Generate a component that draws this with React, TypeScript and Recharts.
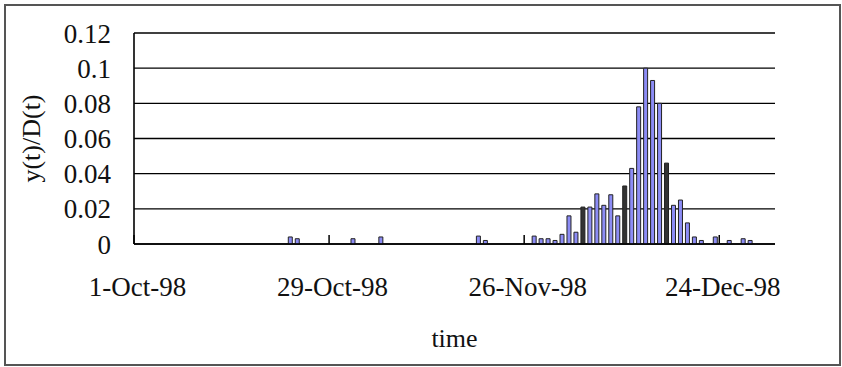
import { BarChart, Bar, XAxis, YAxis, CartesianGrid, Cell } from 'recharts';

const FONT = '"Liberation Serif", "Times New Roman", serif';

// day labels, 1-Oct-98 .. 31-Dec-98
const MONTHS = ['Oct', 'Nov', 'Dec'];
const MONTH_LENGTHS = [31, 30, 31];

// y(t)/D(t) per day of each month
const OCT = [
  0, 0, 0, 0, 0, 0, 0, 0, 0, 0,
  0, 0, 0, 0, 0, 0, 0, 0, 0, 0,
  0, 0, 0.004, 0.003, 0, 0, 0, 0, 0, 0,
  0,
];
const NOV = [
  0.003, 0, 0, 0, 0.004, 0, 0, 0, 0, 0,
  0, 0, 0, 0, 0, 0, 0, 0, 0.0045, 0.002,
  0, 0, 0, 0, 0, 0, 0.0045, 0.003, 0.003, 0.002,
];
const DEC = [
  0.0055, 0.016, 0.0067, 0.021, 0.021, 0.0285, 0.022, 0.028, 0.016, 0.033,
  0.043, 0.078, 0.1, 0.093, 0.08, 0.046, 0.022, 0.025, 0.012, 0.004,
  0.002, 0, 0.004, 0, 0.002, 0, 0.003, 0.002, 0, 0,
  0,
];

// bars that came out dark in the scanned original
const DARK_DAYS = ['4-Dec-98', '10-Dec-98', '16-Dec-98'];

const Y_TICKS = [0, 0.02, 0.04, 0.06, 0.08, 0.1, 0.12];

const days = MONTHS.flatMap((m, k) =>
  Array.from({ length: MONTH_LENGTHS[k] }, (_, d) => `${d + 1}-${m}-98`)
);
const values = [...OCT, ...NOV, ...DEC];
const data = days.map((day, i) => ({ day, ratio: values[i] }));

const TICK_GAP = 33;

function DayTick(props: any) {
  const { x, y, payload } = props;
  const edge = x - (payload.offset ?? 0);
  const base = y - TICK_GAP;
  return (
    <g>
      <line x1={edge} x2={edge} y1={base} y2={base - 9} stroke='#000' strokeWidth={1.5} />
      <text
        x={x}
        y={y}
        dy='0.71em'
        textAnchor='middle'
        fill='#111'
        fontSize={27}
        fontFamily={FONT}
      >
        {payload.value}
      </text>
    </g>
  );
}

export default function App() {
  return (
    <div style={{ position: 'absolute', left: 0, top: 0, width: 842, height: 367, background: '#fff' }}>
      <div
        style={{
          position: 'absolute',
          left: 4,
          top: 4,
          width: 837,
          height: 362,
          boxSizing: 'border-box',
          border: '2px solid #555',
        }}
      />
      <div style={{ position: 'absolute', left: 0, top: 0 }}>
        <BarChart
          width={842}
          height={367}
          data={data}
          margin={{ top: 33, right: 67, bottom: 0, left: 0 }}
        >
          <CartesianGrid vertical={false} stroke='#000' strokeWidth={1.4} />
          <XAxis
            dataKey='day'
            interval={27}
            tick={<DayTick />}
            tickLine={false}
            tickSize={0}
            tickMargin={TICK_GAP}
            height={123}
            axisLine={{ stroke: '#000', strokeWidth: 1.6 }}
            label={{
              value: 'time',
              position: 'insideBottom',
              offset: 20,
              fill: '#111',
              fontSize: 26,
              fontFamily: FONT,
            }}
          />
          <YAxis
            width={134}
            domain={[0, 0.12]}
            ticks={Y_TICKS}
            interval={0}
            tickLine={false}
            tickSize={0}
            tickMargin={23}
            axisLine={{ stroke: '#000', strokeWidth: 1.6 }}
            tick={{ fill: '#111', fontSize: 27, fontFamily: FONT }}
            label={{
              value: 'y(t)/D(t)',
              angle: -90,
              position: 'insideLeft',
              offset: 31,
              fill: '#111',
              fontSize: 26,
              fontFamily: FONT,
              style: { textAnchor: 'middle' },
            }}
          />
          <Bar
            dataKey='ratio'
            barSize={4}
            fill='#8c8cf5'
            stroke='#222'
            strokeWidth={1}
            isAnimationActive={false}
          >
            {data.map((d) => (
              <Cell key={d.day} fill={DARK_DAYS.includes(d.day) ? '#333' : '#8c8cf5'} />
            ))}
          </Bar>
        </BarChart>
      </div>
    </div>
  );
}
